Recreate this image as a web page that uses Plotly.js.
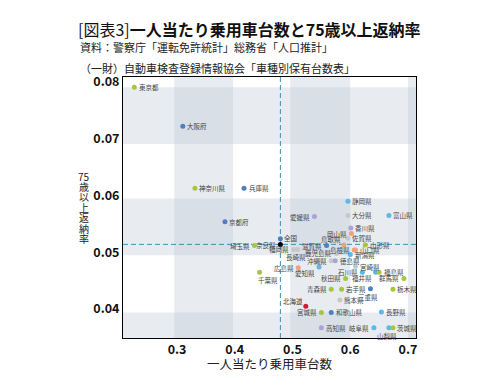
<!DOCTYPE html>
<html><head><meta charset="utf-8">
<script src="https://cdn.plot.ly/plotly-3.0.1.min.js"></script>
<style>html,body{margin:0;padding:0;background:#fff}#chart{width:502px;height:390px}</style>
</head><body><div id="chart"></div>
<script>
// ---- data ----
const prefs = ['東京都','大阪府','神奈川県','兵庫県','京都府','静岡県','大分県','富山県','愛媛県','香川県','岡山県','佐賀県','鳥取県','山形県','全国','奈良県','埼玉県','福岡県','長崎県','滋賀県','鹿児島県','島根県','山口県','新潟県','沖縄県','徳島県','宮崎県','広島県','愛知県','千葉県','石川県','福島県','福井県','秋田県','群馬県','青森県','岩手県','三重県','栃木県','熊本県','北海道','宮城県','和歌山県','長野県','高知県','岐阜県','山梨県','茨城県'];
const carsPerCapita = [0.226,0.310,0.331,0.416,0.383,0.596,0.596,0.667,0.538,0.601,0.602,0.596,0.589,0.626,0.479,0.479,0.434,0.502,0.509,0.559,0.576,0.607,0.609,0.600,0.567,0.574,0.609,0.510,0.546,0.443,0.621,0.650,0.644,0.592,0.693,0.567,0.585,0.635,0.674,0.582,0.523,0.550,0.567,0.654,0.550,0.641,0.667,0.674];
const returnRate = [0.0791,0.0722,0.0613,0.0613,0.0554,0.0590,0.0565,0.0565,0.0563,0.0543,0.0533,0.0525,0.0513,0.0513,0.0514,0.0524,0.0512,0.0505,0.0505,0.0512,0.0498,0.0504,0.0504,0.0496,0.0485,0.0485,0.0475,0.0473,0.0474,0.0465,0.0465,0.0465,0.0465,0.0454,0.0454,0.0435,0.0435,0.0436,0.0435,0.0416,0.0405,0.0394,0.0394,0.0395,0.0367,0.0367,0.0367,0.0367];
const region = ['関東','近畿','関東','近畿','近畿','中部','九州','中部','四国','四国','中国','九州','中国','東北','全国','近畿','関東','九州','九州','近畿','九州','中国','中国','中部','九州','四国','九州','中国','中部','関東','中部','東北','中部','東北','関東','東北','東北','近畿','関東','九州','北海道','東北','近畿','中部','四国','中部','中部','関東'];
const labelPos = ['r','r','r','r','r','r','r','r','l','r','l','r','tl','r','tr','bl','l','l','b','l','l','l','r','r','l','r','r','l','bl','br','l','r','bl','l','l','l','r','b','r','r','tl','l','r','r','r','l','b','r'];
const xTicks = [0.3,0.4,0.5,0.6,0.7];
const yTicks = [0.04,0.05,0.06,0.07,0.08];
const regionColors = {'北海道':'#d4173b','東北':'#a6c73c','関東':'#a6c73c','中部':'#5cb8e6','近畿':'#4f7fc0','中国':'#f0a07a','四国':'#aaa2d8','九州':'#c8c8c8','全国':'#000000'};

const FONT = '"Noto Sans CJK JP", "Noto Sans", sans-serif';
const regionOrder = ['九州','四国','中国','中部','近畿','関東','東北','北海道','全国'];
const traces = regionOrder.map(r => {
  const idx = region.map((v,i)=>v===r?i:-1).filter(i=>i>=0);
  return {type:'scatter', mode:'markers', name:r, showlegend:false,
    x: idx.map(i=>carsPerCapita[i]), y: idx.map(i=>returnRate[i]), text: idx.map(i=>prefs[i]),
    marker:{size:5, color:regionColors[r]}, hoverinfo:'text+x+y'};
});

const posMap = {
  r:{xanchor:'left',yanchor:'middle',xshift:3.5,yshift:0},
  l:{xanchor:'right',yanchor:'middle',xshift:-3.5,yshift:0},
  b:{xanchor:'center',yanchor:'top',xshift:-2,yshift:-2},
  tl:{xanchor:'right',yanchor:'middle',xshift:-2,yshift:5.5},
  bl:{xanchor:'right',yanchor:'middle',xshift:-3,yshift:-6},
  br:{xanchor:'left',yanchor:'middle',xshift:-3,yshift:-8},
  tr:{xanchor:'left',yanchor:'middle',xshift:3,yshift:6}
};
const annotations = prefs.map((p,i)=>Object.assign({
  x:carsPerCapita[i], y:returnRate[i], xref:'x', yref:'y', text:p, showarrow:false,
  font:{family:FONT,size:6.5,color:'#444'}, borderpad:0
}, posMap[labelPos[i]]));

// subtitle lines
const subs = ['資料：警察庁「運転免許統計」総務省「人口推計」','（一財）自動車検査登録情報協会「車種別保有台数表」'];
const subY = [47,68];
subs.forEach((s,k)=>annotations.push({text:s, xref:'paper', yref:'paper', x:(78-123)/293, y:(338-subY[k])/261,
  xanchor:'left', yanchor:'middle', showarrow:false, font:{family:FONT,size:11,color:'#222'}}));

// vertical y-axis title
const yTitleChars = ['75','歳','以','上','返','納','率'];
yTitleChars.forEach((c,k)=>annotations.push({text:c, xref:'paper', yref:'paper', x:(84-123)/293, y:(338-(176+k*10.4))/261,
  xanchor:'center', yanchor:'middle', showarrow:false, borderpad:0, font:{family:FONT,size:10,color:'#222'}}));

// x-axis title
annotations.push({text:'一人当たり乗用車台数', xref:'paper', yref:'paper', x:0.5, y:(338-363)/261,
  xanchor:'center', yanchor:'middle', showarrow:false, font:{family:FONT,size:12.5,color:'#222'}});

const natX = carsPerCapita[prefs.indexOf('全国')], natY = returnRate[prefs.indexOf('全国')];
const band = 'rgba(185,196,210,0.32)';
const shapes = [
  {type:'rect',xref:'x',yref:'paper',x0:0.295,x1:0.397,y0:0,y1:1,fillcolor:band,line:{width:0},layer:'below'},
  {type:'rect',xref:'x',yref:'paper',x0:0.496,x1:0.600,y0:0,y1:1,fillcolor:band,line:{width:0},layer:'below'},
  {type:'rect',xref:'x',yref:'paper',x0:0.700,x1:0.72,y0:0,y1:1,fillcolor:band,line:{width:0},layer:'below'},
  {type:'rect',xref:'paper',yref:'y',x0:0,x1:1,y0:0.0691,y1:0.0791,fillcolor:band,line:{width:0},layer:'below'},
  {type:'rect',xref:'paper',yref:'y',x0:0,x1:1,y0:0.0495,y1:0.0595,fillcolor:band,line:{width:0},layer:'below'},
  {type:'rect',xref:'paper',yref:'y',x0:0,x1:1,y0:0.03,y1:0.0394,fillcolor:band,line:{width:0},layer:'below'},
  {type:'line',xref:'x',yref:'paper',x0:natX,x1:natX,y0:0,y1:1,line:{color:'#3a8fb7',width:1,dash:'5px,3px'},layer:'below'},
  {type:'line',xref:'paper',yref:'y',x0:0,x1:1,y0:natY,y1:natY,line:{color:'#3a8fb7',width:1,dash:'5px,3px'},layer:'below'}
];

const layout = {
  width:502, height:390,
  margin:{l:123, r:86, t:77, b:52},
  paper_bgcolor:'#fff', plot_bgcolor:'#fff',
  title:{text:'[図表3]<b>一人当たり乗用車台数と75歳以上返納率</b>', x:78/502, xref:'container', xanchor:'left',
    y:1-30/390, yref:'container', yanchor:'middle', font:{family:FONT,size:16,color:'#111'}},
  xaxis:{range:[0.2064,0.7139], tickvals:xTicks, ticktext:xTicks.map(v=>v.toFixed(1)), showgrid:false, zeroline:false,
    showline:true, mirror:true, linecolor:'#000', linewidth:1, ticks:'',
    tickfont:{family:FONT,size:12.5,color:'#111',weight:'bold'}},
  yaxis:{range:[0.0349,0.0809], tickvals:yTicks, ticktext:yTicks.map(v=>v.toFixed(2)), showgrid:false, zeroline:false,
    showline:true, mirror:true, linecolor:'#000', linewidth:1, ticks:'',
    tickfont:{family:FONT,size:12.5,color:'#111',weight:'bold'}},
  shapes:shapes, annotations:annotations, showlegend:false
};
Plotly.newPlot('chart', traces, layout, {displayModeBar:false, staticPlot:true});
</script></body></html>
